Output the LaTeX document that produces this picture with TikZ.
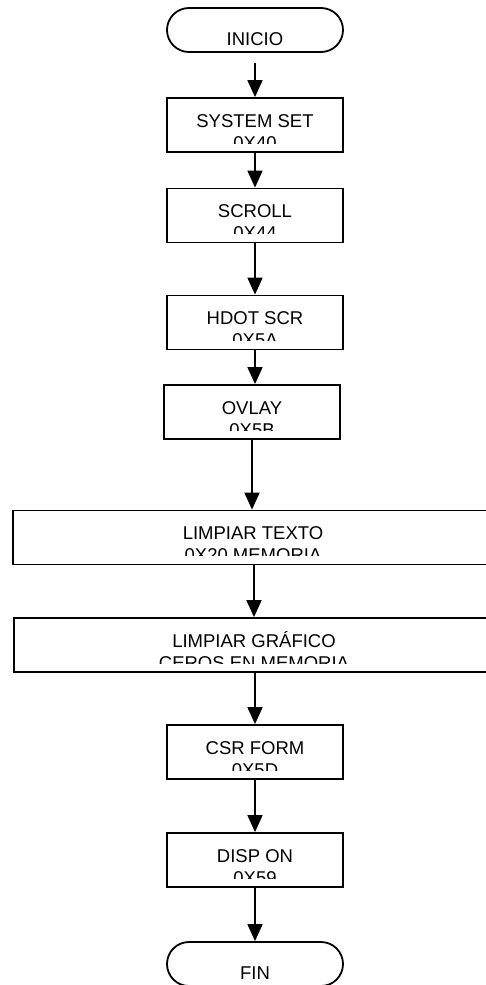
\documentclass[tikz,border=0pt]{standalone}
\usepackage{fontspec}
\setmainfont{Liberation Sans}
\usetikzlibrary{arrows.meta}

\begin{document}
\begin{tikzpicture}[x=1pt, y=-1pt,
  font=\fontsize{18.5}{22}\selectfont,
  terminal/.style={draw, line width=1.8pt, rounded corners=22pt, minimum width=176pt,
    minimum height=44pt, inner xsep=0pt, inner ysep=-6pt, text height=43pt, text depth=13pt},
  procbox/.style={draw, line width=1.8pt, minimum width=176pt, minimum height=54pt,
    inner sep=0pt, text height=13pt, text depth=9pt},
  subline/.style={path picture={
    \clip ([yshift=9pt]path picture bounding box.south west) rectangle (path picture bounding box.north east);
    \node[anchor=base, inner sep=0pt] at ([yshift=-24pt]path picture bounding box.center) {#1};}},
  flow/.style={line width=1.8pt, -{Triangle[length=17pt,width=15pt]}}]

 % frame
 \useasboundingbox (0,0) rectangle (486,985);

 % nodes
 \node[terminal] (inicio) at (255,30) {INICIO};
 \node[procbox, subline=0X40] (sysset) at (255,125) {SYSTEM SET};
 \node[procbox, subline=0X44] (scroll) at (255,215.5) {SCROLL};
 \node[procbox, subline=0X5A] (hdot) at (255,322.5) {HDOT SCR};
 \node[procbox, subline=0X5B] (ovlay) at (252,412) {OVLAY};
 \node[procbox, subline=0X20 MEMORIA, minimum width=480pt] (texto) at (253,537.5) {LIMPIAR TEXTO};
 \node[procbox, subline=CEROS EN MEMORIA, minimum width=480pt] (grafico) at (254,645) {LIMPIAR GRÁFICO};
 \node[procbox, subline=0X5D] (csr) at (255,752) {CSR FORM};
 \node[procbox, subline=0X59] (disp) at (255,860) {DISP ON};
 \node[terminal] (fin) at (255,964) {FIN};

 % arrows
 \draw[flow, shorten <=10pt] (inicio) -- (sysset);
 \draw[flow] (sysset) -- (scroll);
 \draw[flow] (scroll) -- (hdot);
 \draw[flow] (hdot.south) -- (hdot.south |- ovlay.north);
 \draw[flow] (ovlay.south) -- (ovlay.south |- texto.north);
 \draw[flow] (texto.south -| grafico.north) -- (grafico.north);
 \draw[flow] (grafico.south -| csr.north) -- (csr.north);
 \draw[flow] (csr) -- (disp);
 \draw[flow] (disp) -- (fin);
\end{tikzpicture}
\end{document}
